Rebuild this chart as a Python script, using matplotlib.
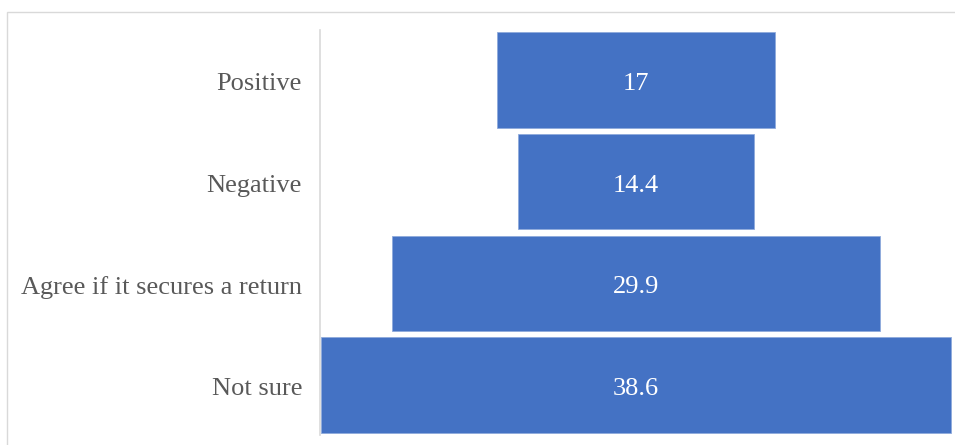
import matplotlib
matplotlib.use("Agg")
import matplotlib.pyplot as plt
from matplotlib.patches import Rectangle
from matplotlib.transforms import ScaledTranslation

categories = ["Positive", "Negative", "Agree if it secures a return", "Not sure"]
values = [17, 14.4, 29.9, 38.6]
value_labels = ["17", "14.4", "29.9", "38.6"]

W, H = 955, 445
fig = plt.figure(figsize=(W / 100, H / 100), dpi=100)
fig.patch.set_facecolor("white")

# outer chart frame
fig.patches.append(Rectangle((7 / W, -0.05), 1.2, (H - 12) / H + 0.05,
                             transform=fig.transFigure, fill=False,
                             edgecolor="#d9d9d9", linewidth=1.0))

ax = fig.add_axes([320 / W, 1 - 435 / H, 632 / W, 405 / H])
half = 632 / 630 * max(values) / 2
ax.set_xlim(-half, half)
ax.set_ylim(len(categories) - 0.51, -0.49)

lefts = [-v / 2 for v in values]
ax.barh(range(len(categories)), values, left=lefts, height=0.94,
        color="#4472C4", edgecolor="#8FAADC", linewidth=0.6)

font = "Liberation Serif"
shift = ScaledTranslation(0, -0.04, fig.dpi_scale_trans)
for i, (v, lab) in enumerate(zip(values, value_labels)):
    ax.text(0, i, lab, ha="center", va="center", color="white",
            fontsize=19, family=font, transform=ax.transData + shift)

lab_tr = ax.get_yaxis_transform() + ScaledTranslation(-0.18, -0.04, fig.dpi_scale_trans)
for i, cat in enumerate(categories):
    ax.text(0, i, cat, ha="right", va="center", color="#595959",
            fontsize=19, family=font, transform=lab_tr)

ax.set_yticks([])
ax.set_xticks([])
for s in ["top", "right", "bottom"]:
    ax.spines[s].set_visible(False)
ax.spines["left"].set_color("#d9d9d9")
ax.spines["left"].set_linewidth(1.2)

fig.savefig("out.png", dpi=100)
